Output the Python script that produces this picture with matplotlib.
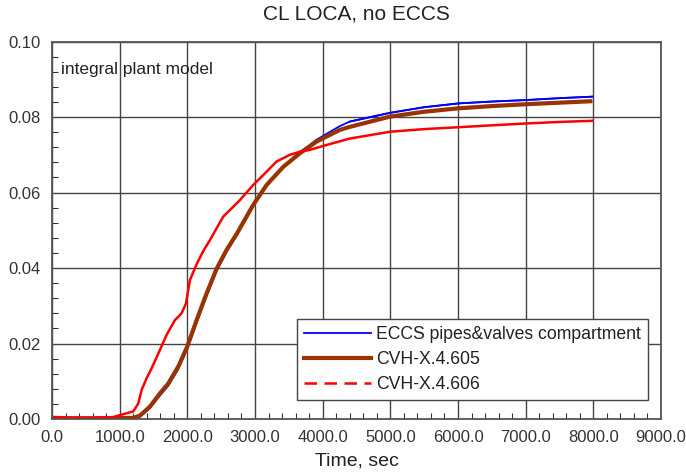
import matplotlib.pyplot as plt
from matplotlib.lines import Line2D
from matplotlib.ticker import MultipleLocator, FormatStrFormatter

plt.rcParams['font.family'] = ['Liberation Sans', 'DejaVu Sans']

# values
t_red = [0, 300, 600, 900, 1000, 1100, 1200, 1275, 1325, 1398, 1472, 1595, 1694, 1817,
         1915, 1980, 2038, 2137, 2245, 2334, 2530, 2777, 2973, 3121, 3318, 3516, 3663,
         3811, 4057, 4402, 4993, 5500, 6002, 6500, 7011, 7500, 7986]
v_red = [0.0005, 0.0003, 0.0003, 0.0005, 0.0010, 0.0015, 0.0020, 0.0041, 0.0077, 0.0108,
         0.0134, 0.0183, 0.0223, 0.0262, 0.0280, 0.0306, 0.0368, 0.0410, 0.0448, 0.0474,
         0.0536, 0.0580, 0.0620, 0.0646, 0.0682, 0.0700, 0.0708, 0.0713, 0.0726, 0.0743,
         0.0761, 0.0768, 0.0773, 0.0778, 0.0783, 0.0787, 0.0790]

t_brown = [0, 300, 600, 900, 1200, 1300, 1448, 1595, 1718, 1866, 1999, 2137, 2285, 2432,
           2580, 2728, 2973, 3171, 3417, 3663, 3910, 4254, 4402, 4993, 5500, 6002, 6500,
           7011, 7500, 7986]
v_brown = [0.0003, 0.0002, 0.0002, 0.0002, 0.0003, 0.0009, 0.0033, 0.0068, 0.0094, 0.0139,
           0.0192, 0.0262, 0.0333, 0.0398, 0.0448, 0.0490, 0.0567, 0.0620, 0.0668, 0.0704,
           0.0735, 0.0766, 0.0774, 0.0801, 0.0814, 0.0823, 0.0829, 0.0834, 0.0838, 0.0842]

t_blue = [0, 300, 600, 900, 1200, 1300, 1448, 1595, 1718, 1866, 1999, 2137, 2285, 2432,
          2580, 2728, 2973, 3171, 3417, 3663, 3910, 4254, 4402, 4993, 5500, 6002, 6500,
          7011, 7500, 7986]
v_blue = [0.0003, 0.0002, 0.0002, 0.0002, 0.0002, 0.0006, 0.0029, 0.0062, 0.0088, 0.0132,
          0.0186, 0.0255, 0.0326, 0.0392, 0.0443, 0.0486, 0.0564, 0.0618, 0.0668, 0.0706,
          0.0740, 0.0776, 0.0788, 0.0811, 0.0826, 0.0836, 0.0841, 0.0845, 0.0850, 0.0854]

labels = ["ECCS pipes&valves compartment", "CVH-X.4.605", "CVH-X.4.606"]

fig = plt.figure(figsize=(6.86, 4.72), dpi=100)
ax = fig.add_axes([0.0758, 0.1123, 0.8878, 0.7997])

ax.plot(t_blue, v_blue, color="#0000ff", lw=1.3)
ax.plot(t_brown, v_brown, color="#993300", lw=3.0, solid_capstyle="butt")
# blue sits above the brown line on the plateau
ax.plot(t_blue[-8:], v_blue[-8:], color="#0000ff", lw=1.3)
ax.plot(t_red, v_red, color="#ff0000", lw=1.8)

ax.set_xlim(0, 9000)
ax.set_ylim(0, 0.10)
ax.xaxis.set_major_locator(MultipleLocator(1000))
ax.xaxis.set_minor_locator(MultipleLocator(200))
ax.yaxis.set_major_locator(MultipleLocator(0.02))
ax.yaxis.set_minor_locator(MultipleLocator(0.004))
ax.xaxis.set_major_formatter(FormatStrFormatter("%.1f"))
ax.yaxis.set_major_formatter(FormatStrFormatter("%.2f"))
ax.grid(True, which="major", color="#444444", lw=1.0)
ax.set_axisbelow(True)
ax.tick_params(which="both", direction="in", labelsize=12, colors="#333333")
ax.tick_params(which="major", length=0, pad=8)
ax.tick_params(which="minor", length=4, width=0.8)
for s in ax.spines.values():
    s.set_color("#555555")
    s.set_linewidth(1.3)

ax.set_xlabel("Time, sec", fontsize=14, color="#222222", labelpad=5)
ax.set_title("CL LOCA, no ECCS", fontsize=15, color="#222222", pad=16)
ax.text(130, 0.0925, "integral plant model", fontsize=12.5, color="#222222", va="center")

handles = [
    Line2D([], [], color="#0000ff", lw=1.3),
    Line2D([], [], color="#993300", lw=3.0),
    Line2D([], [], color="#ff0000", lw=1.8, ls=(0, (5, 3))),
]
leg = ax.legend(handles, labels, loc="lower right", bbox_to_anchor=(0.979, 0.05),
                borderaxespad=0, fontsize=12.7, fancybox=False, framealpha=1,
                edgecolor="#444444", handlelength=3.8, borderpad=0.4,
                labelspacing=0.45, handletextpad=0.3)
leg.get_frame().set_linewidth(1.0)
for txt in leg.get_texts():
    txt.set_color("#222222")

fig.savefig("out.png", dpi=100)
